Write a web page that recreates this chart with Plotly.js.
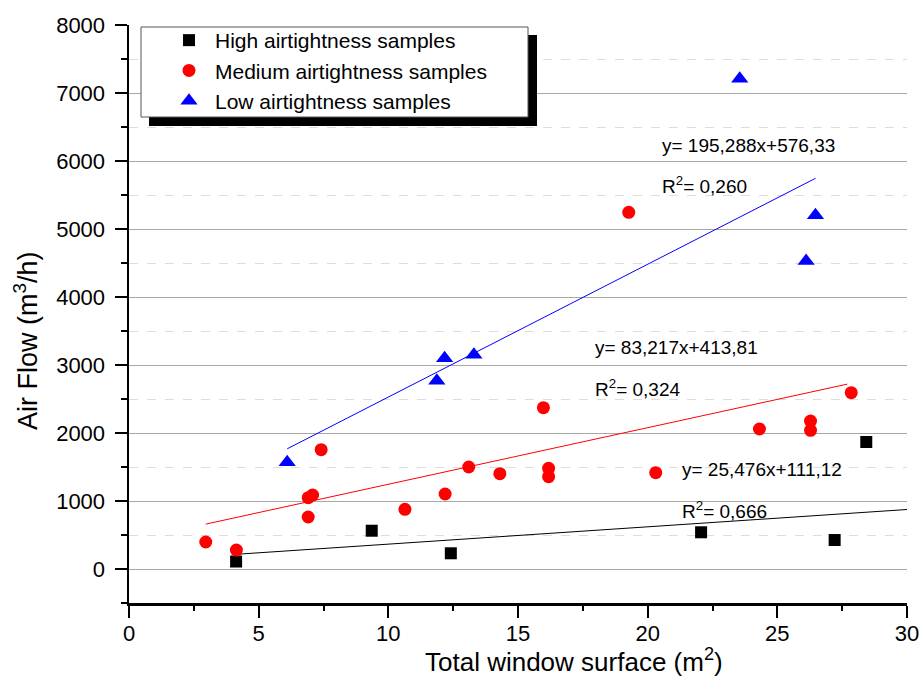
<!DOCTYPE html>
<html>
<head>
<meta charset="utf-8">
<script src="https://cdn.plot.ly/plotly-3.0.1.min.js"></script>
<style>html,body{margin:0;padding:0;background:#fff;}#chart{width:921px;height:677px;}</style>
</head>
<body>
<div id="chart"></div>
<script>
// ---- data ----
const seriesNames = ["High airtightness samples", "Medium airtightness samples", "Low airtightness samples"];

const highX = [4.13, 9.36, 12.41, 22.06, 27.21, 28.43];
const highY = [110, 563, 231, 540, 426, 1868];

const mediumX = [2.96, 4.14, 6.91, 7.08, 6.91, 7.41, 10.64, 12.19, 13.10, 14.30, 15.98, 16.18, 16.18, 19.27, 20.31, 24.31, 26.28, 26.28, 27.85];
const mediumY = [397, 279, 1049, 1088, 765, 1755, 877, 1103, 1500, 1402, 2372, 1480, 1358, 5245, 1417, 2059, 2176, 2039, 2593];

const lowX = [6.10, 11.87, 12.17, 13.30, 23.55, 26.11, 26.47];
const lowY = [1569, 2769, 3098, 3150, 7210, 4529, 5201];

// fitted lines (end points)
const highFitX = [4.13, 30];
const highFitY = [216, 875];
const mediumFitX = [2.96, 27.7];
const mediumFitY = [660, 2719];
const lowFitX = [6.10, 26.47];
const lowFitY = [1767, 5745];

// equation labels
const eqTexts = ["y= 195,288x+576,33", "R<sup>2</sup>= 0,260",
                 "y= 83,217x+413,81", "R<sup>2</sup>= 0,324",
                 "y= 25,476x+111,12", "R<sup>2</sup>= 0,666"];
const eqX = [20.47, 20.47, 17.90, 17.90, 21.24, 21.24];
const eqY = [6235, 5647, 3260, 2662, 1456, 868];

const xTickVals = [0, 5, 10, 15, 20, 25, 30];
const yTickVals = [0, 1000, 2000, 3000, 4000, 5000, 6000, 7000, 8000];

const xTitle = "Total window surface (m<sup>2</sup>)";
const yTitle = "Air Flow (m<sup>3</sup>/h)";

// ---- chart ----
const FONT = "Arial, 'Liberation Sans', sans-serif";
// plot area in pixels
const PL = 129, PR = 907, PT = 25, PB = 603;
const px2x = p => (p - PL) / (PR - PL);
const px2y = p => (PB - p) / (PB - PT);

const traces = [
  {x: highFitX, y: highFitY, mode: "lines", line: {color: "#000000", width: 1}, showlegend: false, hoverinfo: "skip"},
  {x: mediumFitX, y: mediumFitY, mode: "lines", line: {color: "#ff0000", width: 1}, showlegend: false, hoverinfo: "skip"},
  {x: lowFitX, y: lowFitY, mode: "lines", line: {color: "#0000ff", width: 1}, showlegend: false, hoverinfo: "skip"},
  {x: highX, y: highY, mode: "markers", name: seriesNames[0],
   marker: {symbol: "square", size: 12, color: "#000000"}},
  {x: mediumX, y: mediumY, mode: "markers", name: seriesNames[1],
   marker: {symbol: "circle", size: 13, color: "#ff0000"}},
  {x: lowX, y: lowY, mode: "markers", name: seriesNames[2],
   marker: {symbol: "triangle-up", size: 15, color: "#0000ff"}}
];

const annotations = eqTexts.map((t, i) => ({
  x: eqX[i], y: eqY[i], xref: "x", yref: "y", text: t, showarrow: false,
  xanchor: "left", yanchor: "middle", font: {family: FONT, size: 19, color: "#000"}
}));
annotations.push({
  x: px2x(574), y: px2y(660), xref: "paper", yref: "paper", text: xTitle, showarrow: false,
  xanchor: "center", yanchor: "middle", font: {family: FONT, size: 26, color: "#000"}
});
annotations.push({
  x: px2x(26), y: px2y(341), xref: "paper", yref: "paper", text: yTitle,
  showarrow: false, textangle: -90, xanchor: "center", yanchor: "middle",
  font: {family: FONT, size: 27, color: "#000"}
});

const layout = {
  width: 921, height: 677,
  margin: {l: PL, r: 921 - PR, t: PT, b: 677 - PB, pad: 0},
  paper_bgcolor: "#ffffff", plot_bgcolor: "#ffffff",
  font: {family: FONT, size: 22, color: "#000"},
  showlegend: true,
  legend: {
    x: px2x(141), y: px2y(20), xanchor: "left", yanchor: "top",
    bgcolor: "rgba(0,0,0,0)", borderwidth: 0,
    font: {family: FONT, size: 21, color: "#000"},
    indentation: 22, itemwidth: 42, tracegroupgap: 0
  },
  xaxis: {
    range: [0, 30], tickvals: xTickVals, ticks: "outside", ticklen: 12, tickwidth: 2, tickcolor: "#000",
    showline: true, linecolor: "#000", linewidth: 2.5, showgrid: false, zeroline: false,
    ticklabelstandoff: -3,
    tickfont: {family: FONT, size: 22, color: "#000"},
    minor: {dtick: 2.5, tick0: 0, ticks: "outside", ticklen: 5, tickwidth: 2, tickcolor: "#000", showgrid: false}
  },
  yaxis: {
    range: [-500, 8000], tickvals: yTickVals, ticks: "outside", ticklen: 12, tickwidth: 2, tickcolor: "#000",
    showline: true, linecolor: "#000", linewidth: 2.5, showgrid: true, gridcolor: "#a8a8a8", gridwidth: 1,
    zeroline: false, ticklabelstandoff: 5,
    tickfont: {family: FONT, size: 22, color: "#000"},
    minor: {dtick: 500, tick0: 0, ticks: "outside", ticklen: 6, tickwidth: 2, tickcolor: "#000",
            showgrid: true, gridcolor: "#dddddd", griddash: "dash", gridwidth: 1}
  },
  shapes: [
    { // hide grid line on the top frame edge (reference shows none there)
      type: "line", xref: "paper", yref: "paper", x0: 0.003, x1: 1, y0: 1, y1: 1,
      line: {color: "#ffffff", width: 3}, layer: "above"
    },
    { // legend drop shadow
      type: "rect", xref: "paper", yref: "paper",
      x0: px2x(149), x1: px2x(537), y0: px2y(126), y1: px2y(35),
      fillcolor: "#000000", line: {width: 0}, layer: "above"
    },
    { // legend frame
      type: "rect", xref: "paper", yref: "paper",
      x0: px2x(141), x1: px2x(528), y0: px2y(117), y1: px2y(27),
      fillcolor: "#ffffff", line: {color: "#555555", width: 1}, layer: "above"
    }
  ],
  annotations: annotations,
  hovermode: false
};

Plotly.newPlot("chart", traces, layout, {staticPlot: true, displayModeBar: false});
</script>
</body>
</html>
